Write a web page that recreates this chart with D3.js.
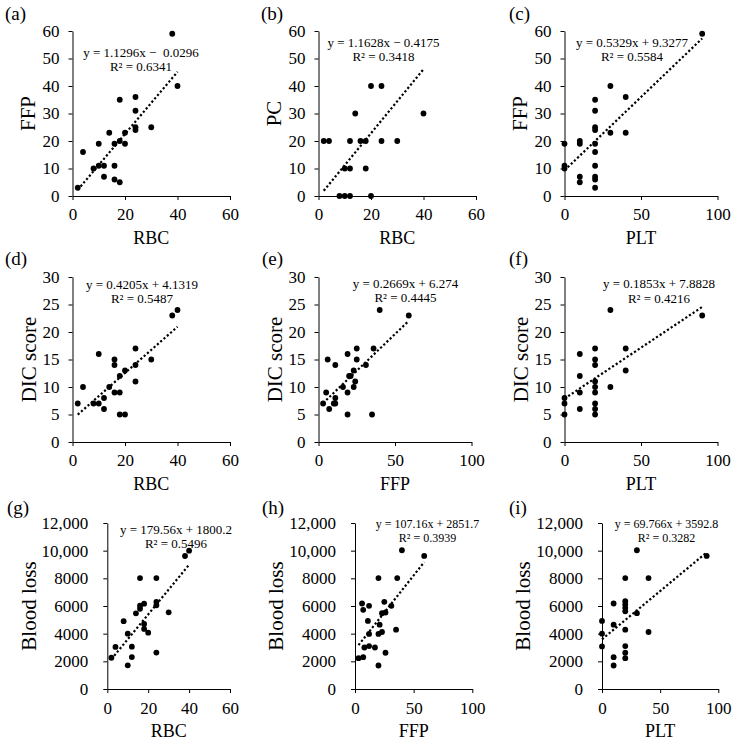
<!DOCTYPE html>
<html><head><meta charset="utf-8">
<script src="https://cdn.jsdelivr.net/npm/d3@7"></script>
<style>
body{margin:0;background:#fff}
text{font-family:"Liberation Serif","Times New Roman",serif;white-space:pre;fill:#000}
</style>
</head><body>
<svg id="chart" width="739" height="744"></svg>
<script>
// ---- Data ----
const aX = [2,4,8,10,10,12,12,14,16,16,16,18,18,18,20,20,24,24,24,24,30,38,40];
const aY = [3,16,10,19,11,11,7,23,11,6,19,20,35,5,23,19,36,31,25,24,25,59,40];

const bX = [2,4,8,10,10,12,12,12,14,16,18,18,20,20,24,24,30,40];
const bY = [20,20,0,0,10,0,10,20,30,20,20,10,40,0,40,20,20,30];

const cX = [0,0,0,10,10,10,10,20,20,20,20,20,20,20,20,20,20,30,30,40,40,90];
const cY = [19,11,10,20,19,7,5,35,31,25,24,19,16,11,7,6,3,40,23,36,23,59];

const dX = [2,4,8,10,10,12,12,14,16,16,16,18,18,18,20,20,24,24,24,30,38,40];
const dY = [7,10,7,7,16,8,6,10,15,14,9,12,9,5,13,5,17,14,11,15,23,24];

const eX = [3,5,6,7,10,11,11,11,16,19,19,19,20,21,23,23,24,25,25,31,35,36,40,59];
const eY = [7,9,15,6,7,7,8,14,10,16,9,5,12,12,13,10,11,17,15,14,5,17,24,23];

const fX = [0,0,0,10,10,10,10,20,20,20,20,20,20,20,20,20,30,30,40,40,90];
const fY = [8,7,5,16,12,9,6,17,15,14,11,10,9,7,6,5,24,10,17,13,23];

const gX = [2,4,8,10,10,12,12,14,16,16,16,18,18,18,20,24,24,24,24,30,38,40];
const gY = [2260,3040,4900,4000,1710,3060,2310,5470,8020,5800,6020,6170,4700,4340,4070,8020,6290,6050,2630,5540,9615,10000];

const hX = [3,7,6,7,8,11,12,12,12,17,20,20,20,21,23,23,25,26,26,31,35,36,40,59];
const hY = [2230,2300,6180,5720,3000,4920,6010,3980,3100,3000,8020,1700,3980,4650,4120,5480,6300,5530,2620,6010,4290,8020,10030,9620];

const iX = [0,0,0,10,10,10,10,20,20,20,20,20,20,20,20,20,30,30,40,40,90];
const iY = [4920,4000,3080,6180,4650,2300,1700,8020,6350,6110,5870,5620,4290,3100,2620,2230,10030,5480,8020,4120,9620];

// regression coefficients and labels
const slopes     = [1.1296, 1.1628, 0.5329, 0.4205, 0.2669, 0.1853, 179.56, 107.16, 69.766];
const intercepts = [-0.0296, -0.4175, 9.3277, 4.1319, 6.274, 7.8828, 1800.2, 2851.7, 3592.8];
const eqTexts = ["y = 1.1296x \u2212  0.0296","y = 1.1628x \u2212 0.4175","y = 0.5329x + 9.3277",
  "y = 0.4205x + 4.1319","y = 0.2669x + 6.274","y = 0.1853x + 7.8828",
  "y = 179.56x + 1800.2","y = 107.16x + 2851.7","y = 69.766x + 3592.8"];
const r2Texts = ["R\u00b2 = 0.6341","R\u00b2 = 0.3418","R\u00b2 = 0.5584","R\u00b2 = 0.5487","R\u00b2 = 0.4445",
  "R\u00b2 = 0.4216","R\u00b2 = 0.5496","R\u00b2 = 0.3939","R\u00b2 = 0.3282"];
const panelLabels = ["(a)","(b)","(c)","(d)","(e)","(f)","(g)","(h)","(i)"];
const xTitles = ["RBC","RBC","PLT","RBC","FFP","PLT","RBC","FFP","PLT"];
const yTitles = ["FFP","PC","FFP","DIC score","DIC score","DIC score","Blood loss","Blood loss","Blood loss"];

// tick values and labels
const ticks60 = [0,20,40,60];
const ticks100 = [0,50,100];
const ticksY60 = [0,10,20,30,40,50,60];
const ticksY30 = [0,5,10,15,20,25,30];
const ticksBlood = [0,2000,4000,6000,8000,10000,12000];
const ticksBloodLabels = ["0","2000","4000","6000","8000","10,000","12,000"];

// ---- Layout (pixel geometry only) ----
const L = [
  {x0:72.5,x1:230,  yB:196,yT:31, xp:8,yp:9, ytx:35,lx:5,  ly:20, ex:141,  e1:57,  e2:71,  es:13},
  {x0:318.5,x1:476, yB:196,yT:31, xp:8,yp:9, ytx:281,lx:261,ly:20, ex:383.5,e1:47,  e2:61,  es:13},
  {x0:564.5,x1:717.5,yB:196,yT:31,xp:8,yp:9, ytx:527,lx:509,ly:20, ex:632,  e1:47,  e2:61,  es:13},
  {x0:72.5,x1:230,  yB:442,yT:277,xp:8,yp:9, ytx:36,lx:5,  ly:265,ex:142,  e1:289, e2:303, es:13},
  {x0:318.5,x1:471.5,yB:442,yT:277,xp:8,yp:9,ytx:282,lx:262,ly:265,ex:405.5,e1:287.5,e2:302,es:13},
  {x0:564.5,x1:717.5,yB:442,yT:277,xp:8,yp:9,ytx:528,lx:509,ly:265,ex:659,  e1:288,e2:302.5,es:13},
  {x0:107.3,x1:230, yB:689,yT:523,xp:9,yp:15,ytx:36,lx:7,  ly:514,ex:176,  e1:533.5,e2:547.5,es:13},
  {x0:355,x1:472.3, yB:689,yT:523,xp:9,yp:15,ytx:283,lx:262,ly:514,ex:427.5,e1:527.5,e2:541.5,es:12},
  {x0:602,x1:718.3, yB:689,yT:523,xp:9,yp:15,ytx:530,lx:509,ly:514,ex:666.5,e1:528,e2:542,es:12}
];

const xsAll = [aX,bX,cX,dX,eX,fX,gX,hX,iX];
const ysAll = [aY,bY,cY,dY,eY,fY,gY,hY,iY];
const xTickSets = [ticks60,ticks60,ticks100,ticks60,ticks100,ticks100,ticks60,ticks100,ticks100];
const yTickSets = [ticksY60,ticksY60,ticksY60,ticksY30,ticksY30,ticksY30,ticksBlood,ticksBlood,ticksBlood];

const svg = d3.select("#chart");

for (let k = 0; k < 9; k++) {
  const lay = L[k];
  const xt = xTickSets[k], yt = yTickSets[k];
  const x = d3.scaleLinear().domain([xt[0], xt[xt.length-1]]).range([lay.x0, lay.x1]);
  const y = d3.scaleLinear().domain([yt[0], yt[yt.length-1]]).range([lay.yB, lay.yT]);
  const g = svg.append("g");

  const xAxis = d3.axisBottom(x).tickValues(xt).tickSize(4).tickSizeOuter(0).tickPadding(lay.xp)
    .tickFormat(d3.format("d"));
  const yAxis = d3.axisLeft(y).tickValues(yt).tickSize(4).tickSizeOuter(0).tickPadding(lay.yp)
    .tickFormat((d,i) => yt === ticksBlood ? ticksBloodLabels[i] : String(d));

  const gx = g.append("g").attr("transform", `translate(0,${lay.yB})`).call(xAxis);
  const gy = g.append("g").attr("transform", `translate(${lay.x0},0)`).call(yAxis);
  [gx, gy].forEach(a => {
    a.attr("font-family", null).attr("font-size", null);
    a.selectAll("path,line").attr("stroke", "#000").attr("stroke-width", 1);
    a.selectAll("text").style("font-size", "17px").attr("fill", "#000");
  });

  // trend line (dotted), spans the x data range
  const xs = xsAll[k], ys = ysAll[k];
  const ext = d3.extent(xs);
  const lineData = ext.map(v => [v, slopes[k]*v + intercepts[k]]);
  g.append("path")
    .attr("d", d3.line().x(d => x(d[0])).y(d => y(d[1]))(lineData))
    .attr("fill", "none").attr("stroke", "#000").attr("stroke-width", 2.2)
    .attr("stroke-dasharray", "2.2,2.2");

  // points
  g.selectAll("circle.pt").data(xs.map((v,i) => [v, ys[i]])).enter()
    .append("circle").attr("class","pt")
    .attr("cx", d => x(d[0])).attr("cy", d => y(d[1])).attr("r", 2.9).attr("fill", "#000");

  // equation text
  g.append("text").attr("x", lay.ex).attr("y", lay.e1).attr("text-anchor","middle")
    .style("font-size", lay.es + "px").text(eqTexts[k]);
  g.append("text").attr("x", lay.ex).attr("y", lay.e2).attr("text-anchor","middle")
    .style("font-size", lay.es + "px").text(r2Texts[k]);

  // axis titles
  g.append("text").attr("x", (lay.x0 + lay.x1)/2).attr("y", lay.yB + 48).attr("text-anchor","middle")
    .style("font-size","18px").text(xTitles[k]);
  g.append("text").attr("transform", `translate(${lay.ytx},${(lay.yB + lay.yT)/2}) rotate(-90)`)
    .attr("text-anchor","middle").style("font-size","21px").text(yTitles[k]);

  // panel label
  g.append("text").attr("x", lay.lx).attr("y", lay.ly).style("font-size","19px").text(panelLabels[k]);
}
</script>
</body></html>
